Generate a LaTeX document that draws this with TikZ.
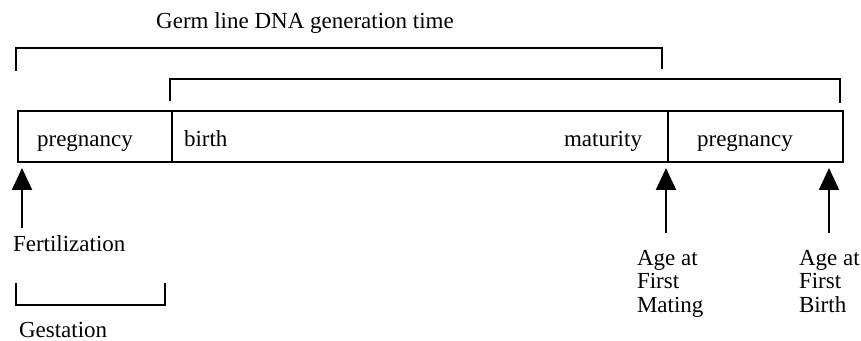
\documentclass[tikz,border=0pt]{standalone}
\usepackage{fontspec}
\setmainfont{Liberation Serif}
\usetikzlibrary{arrows.meta}
\begin{document}
\begin{tikzpicture}[x=0.5pt,y=-0.5pt,
  line width=1pt,
  cell/.style={draw, line width=1pt, minimum height=25.5pt, inner sep=0pt, anchor=north west},
  lbl/.style={font=\fontsize{11.5}{11.75}\selectfont, inner sep=0pt},
  marker/.style={-{Triangle[length=11pt,width=10pt]}, line width=1pt},
  bracket/.style={line width=1pt}]
\useasboundingbox (0,0) rectangle (861,341);

% life-cycle bar
\node[cell, minimum width=77pt]  (c1) at (17,110) {};
\node[cell, minimum width=248pt] (c2) at (171,110) {};
\node[cell, minimum width=87.5pt] (c3) at (667,110) {};

\node[lbl, anchor=base] (preg1) at (85,147) {pregnancy};
\node[lbl, anchor=base west] (birth) at (183,147) {birth};
\node[lbl, anchor=base east] (mat) at (643,147) {maturity};
\node[lbl, anchor=base] (preg2) at (745,147) {pregnancy};

% generation-time brackets
\node[lbl, anchor=base] (title) at (305,29) {Germ line DNA generation time};
\coordinate (g1a) at (16,71);
\coordinate (g1b) at (662,48);
\coordinate (g1c) at (662,69);
\draw[bracket] (g1a) |- (g1b) -- (g1c);
\coordinate (g2a) at (170,101);
\coordinate (g2b) at (840,79);
\coordinate (g2c) at (840,103);
\draw[bracket] (g2a) |- (g2b) -- (g2c);

% event markers
\coordinate (t1) at (22,168);   \coordinate (s1) at (22,228);
\coordinate (t2) at (666,168);  \coordinate (s2) at (666,233);
\coordinate (t3) at (829,168);  \coordinate (s3) at (829,233);
\draw[marker] (s1) -- (t1);
\draw[marker] (s2) -- (t2);
\draw[marker] (s3) -- (t3);

\node[lbl, anchor=base west] (fert) at (12,252) {Fertilization};
\node[lbl, anchor=north west, align=left] (afm) at (636,249) {Age at\\First\\Mating};
\node[lbl, anchor=north west, align=left] (afb) at (798,249) {Age at\\First\\Birth};

% gestation span
\coordinate (ga) at (16,283);
\coordinate (gb) at (165,305);
\coordinate (gc) at (165,283);
\draw[bracket] (ga) |- (gb) -- (gc);
\node[lbl, anchor=base west] (gest) at (18,337) {Gestation};
\end{tikzpicture}
\end{document}
